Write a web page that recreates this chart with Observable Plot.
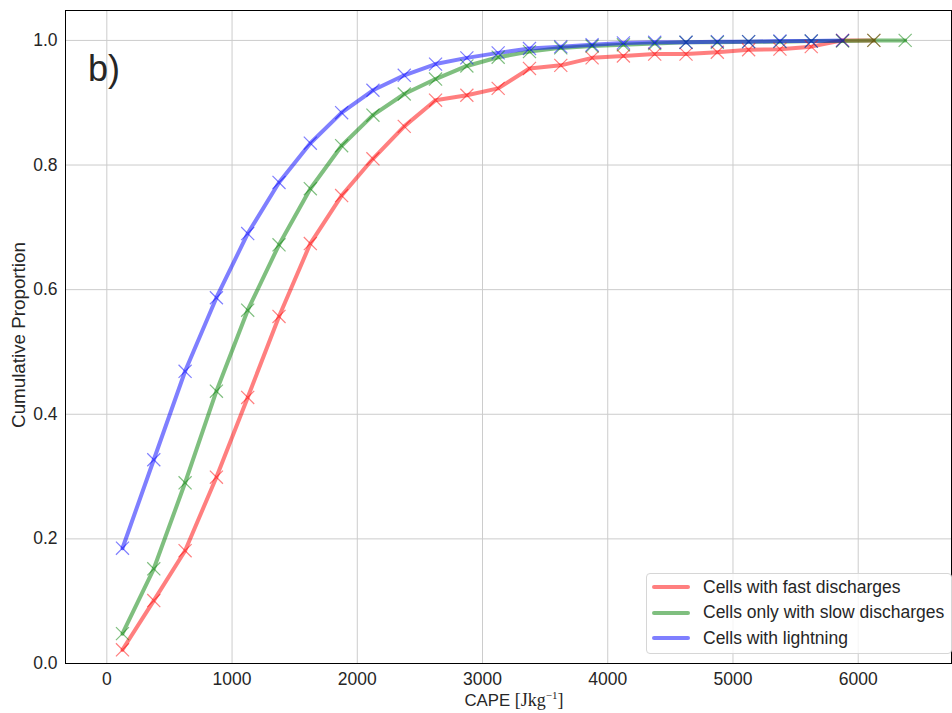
<!DOCTYPE html>
<html>
<head>
<meta charset="utf-8">
<script src="https://cdn.jsdelivr.net/npm/d3@7"></script>
<script src="https://cdn.jsdelivr.net/npm/@observablehq/plot@0.6"></script>
<style>
  body { margin: 0; background: #fff; }
  #wrap { position: relative; width: 952px; height: 713px; font-family: "Liberation Sans", Arial, sans-serif; color: #262626; }
  #ylabel { position: absolute; left: 19px; top: 335px; transform: translate(-50%, -50%) rotate(-90deg); font-size: 18.8px; white-space: nowrap; }
  #xlabel { position: absolute; left: 514px; top: 700px; transform: translate(-50%, -50%); font-size: 16.8px; white-space: nowrap; }
  #xlabel .m { font-family: "Liberation Serif", "DejaVu Serif", serif; font-size: 18px; }
  #xlabel sup { font-size: 11px; }
  #panel { position: absolute; left: 88px; top: 48px; font-size: 36px; }
  #legend { position: absolute; left: 646px; top: 573px; width: 306px; height: 81px; box-sizing: border-box; border: 1px solid #d6d6d6; border-radius: 4px; background: rgba(255,255,255,0.8); font-size: 17.5px; }
  .item { position: absolute; left: 5px; height: 22px; display: flex; align-items: center; }
  .sw { width: 38px; height: 4px; margin-right: 13px; border-radius: 2px; }
</style>
</head>
<body>
<div id="wrap">
  <div id="chart"></div>
  <div id="panel">b)</div>
  <div id="ylabel">Cumulative Proportion</div>
  <div id="xlabel">CAPE <span class="m">[Jkg<sup>−1</sup>]</span></div>
  <div id="legend"></div>
</div>
<script>
const capeBins = [125, 375, 625, 875, 1125, 1375, 1625, 1875, 2125, 2375, 2625, 2875, 3125, 3375, 3625, 3875, 4125, 4375, 4625, 4875, 5125, 5375, 5625, 5875, 6125, 6375];

const fastDischarges = [0.022, 0.101, 0.181, 0.299, 0.427, 0.557, 0.674, 0.751, 0.810, 0.862, 0.904, 0.912, 0.923, 0.955, 0.960, 0.972, 0.975, 0.978, 0.978, 0.981, 0.985, 0.986, 0.990, 1.0, 1.0];
const slowOnly = [0.048, 0.152, 0.290, 0.437, 0.567, 0.672, 0.762, 0.831, 0.880, 0.914, 0.938, 0.959, 0.973, 0.982, 0.988, 0.991, 0.993, 0.995, 0.997, 0.997, 0.998, 0.998, 0.999, 0.999, 1.0, 1.0];
const lightning = [0.185, 0.327, 0.469, 0.587, 0.690, 0.772, 0.835, 0.884, 0.920, 0.944, 0.962, 0.972, 0.980, 0.987, 0.990, 0.993, 0.996, 0.997, 0.997, 0.998, 0.998, 0.999, 0.999, 1.0];

const seriesNames = ["Cells with fast discharges", "Cells only with slow discharges", "Cells with lightning"];
const seriesColors = ["#ff0000", "#008000", "#0000ff"];
const xTicks = [0, 1000, 2000, 3000, 4000, 5000, 6000];
const yTicks = [0, 0.2, 0.4, 0.6, 0.8, 1.0];

const seriesValues = [fastDischarges, slowOnly, lightning];
const data = [];
seriesValues.forEach((vals, i) => {
  vals.forEach((v, j) => data.push({series: seriesNames[i], cape: capeBins[j], p: v}));
});

const chart = Plot.plot({
  width: 952,
  height: 713,
  marginLeft: 65,
  marginRight: 1,
  marginTop: 10,
  marginBottom: 50,
  style: {fontFamily: "'Liberation Sans', Arial, sans-serif", fontSize: "17.5px", color: "#262626", background: "transparent"},
  x: {domain: [-330, 6745]},
  y: {domain: [0, 1.048]},
  color: {domain: seriesNames, range: seriesColors},
  marks: [
    Plot.gridX(xTicks, {stroke: "#cccccc", strokeOpacity: 1}),
    Plot.gridY(yTicks, {stroke: "#cccccc", strokeOpacity: 1}),
    Plot.axisX(xTicks, {tickSize: 0, tickPadding: 9, label: null, fontSize: 17.5, tickFormat: d => String(d)}),
    Plot.axisY(yTicks, {tickSize: 0, tickPadding: 8, label: null, fontSize: 17.5, tickFormat: d => d.toFixed(1)}),
    Plot.line(data, {x: "cape", y: "p", z: "series", stroke: "series", strokeOpacity: 0.5, strokeWidth: 4}),
    Plot.dot(data, {x: "cape", y: "p", symbol: "times", r: 6, stroke: "series", strokeOpacity: 0.5, strokeWidth: 1.2, fill: "none"}),
    Plot.frame({stroke: "#000", strokeWidth: 1})
  ]
});
document.getElementById("chart").appendChild(chart);

const legend = document.getElementById("legend");
seriesNames.forEach((name, i) => {
  const it = document.createElement("div");
  it.className = "item";
  it.style.top = (2 + i * 25.5) + "px";
  const sw = document.createElement("div");
  sw.className = "sw";
  sw.style.background = seriesColors[i];
  sw.style.opacity = 0.5;
  const tx = document.createElement("span");
  tx.textContent = name;
  it.appendChild(sw);
  it.appendChild(tx);
  legend.appendChild(it);
});
</script>
</body>
</html>
